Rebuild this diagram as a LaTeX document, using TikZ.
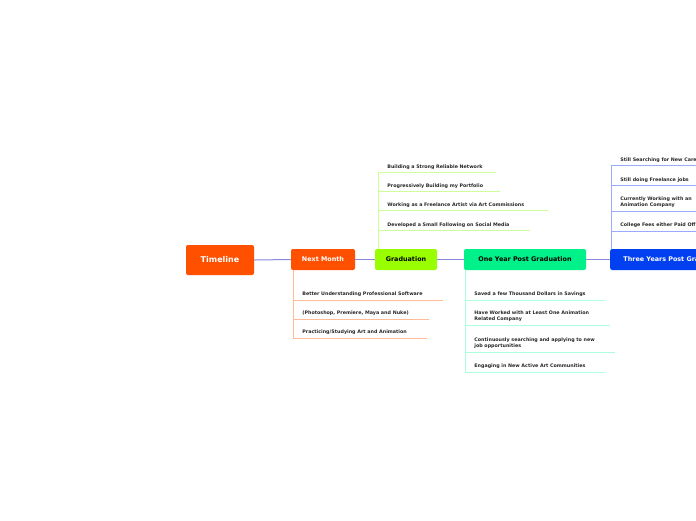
\documentclass[tikz,border=0pt]{standalone}
\usepackage{fontspec}
\setmainfont{DejaVu Sans}
\begin{document}
\begin{tikzpicture}[x=1pt,y=-1pt,
 main/.style={rounded corners=2pt,minimum height=21pt,font=\bfseries\fontsize{6.4}{7}\selectfont,inner sep=0pt},
 leaf/.style={anchor=west,align=left,font=\bfseries\fontsize{4.8}{5.8}\selectfont,inner sep=0pt,text=black!85},
 link/.style={draw=clink,line width=1pt}]
\useasboundingbox (0,0) rectangle (696,520);
\clip (0,0) rectangle (696,520);
\definecolor{cor}{HTML}{FF5000}\definecolor{clime}{HTML}{99FF00}
\definecolor{cgr}{HTML}{00F08A}\definecolor{cbl}{HTML}{0040F0}
\definecolor{lor}{HTML}{FFBB99}\definecolor{llime}{HTML}{CCFF99}
\definecolor{lgr}{HTML}{AAFFDD}\definecolor{lbl}{HTML}{99AAFF}
\definecolor{clink}{HTML}{8888E0}
\node[main,fill=cor,text=white,minimum width=68pt,minimum height=30pt,font=\bfseries\fontsize{8}{9}\selectfont] (tl) at (220,260) {Timeline};
\node[main,fill=cor,text=white,minimum width=64pt] (nm) at (323,259.5) {Next Month};
\node[main,fill=clime,minimum width=62pt] (gr) at (406,259.5) {Graduation};
\node[main,fill=cgr,minimum width=122pt] (oy) at (525,259.5) {One Year Post Graduation};
\node[main,fill=cbl,text=white,minimum width=120pt,anchor=west] (ty) at (610,259.5) {\hspace*{10pt}Three Years Post Graduation\hfill};
\draw[link] (tl.east) -- (nm.west);
\draw[link] (nm.east) -- (gr.west);
\draw[link] (gr.east) -- (oy.west);
\draw[link] (oy.east) -- (ty.west);
\begin{scope}[draw=llime,line width=0.8pt]
\foreach \y/\e/\t in {167/496/{Building a Strong Reliable Network},186/500/{Progressively Building my Portfolio},205/548/{Working as a Freelance Artist via Art Commissions},225/530/{Developed a Small Following on Social Media}}{
 \node[leaf] (n) at (387,\y) {\t};
 \draw (378,\y+5) -- (\e,\y+5);}
\draw (gr.west -| 378,0) ++(0,-10.5) -- (378,172);
\end{scope}
\begin{scope}[draw=lor,line width=0.8pt]
\foreach \y/\e/\t in {294/443/{Better Understanding Professional Software},313/429/{(Photoshop, Premiere, Maya and Nuke)},332/427/{Practicing/Studying Art and Animation}}{
 \node[leaf] (n) at (302,\y) {\t};
 \draw (293,\y+6) -- (\e,\y+6);}
\draw (293,270) -- (293,338);
\end{scope}
\begin{scope}[draw=lgr,line width=0.8pt]
\foreach \y/\l/\e/\t in {294/300/605/{Saved a few Thousand Dollars in Savings},316/325/610/{Have Worked with at Least One Animation\\Related Company},343/352/615/{Continuously searching and applying to new\\job opportunities},366/372/605/{Engaging in New Active Art Communities}}{
 \node[leaf] (n) at (474,\y) {\t};
 \draw (465,\l) -- (\e,\l);}
\draw (465,270) -- (465,372);
\end{scope}
\begin{scope}[draw=lbl,line width=0.8pt]
\foreach \y/\l/\t in {160/165/{Still Searching for New Career Opportunities},180/185/{Still doing Freelance jobs},202/211/{Currently Working with an\\Animation Company},225/231/{College Fees either Paid Off}}{
 \node[leaf] (n) at (620,\y) {\t};
 \draw (611,\l) -- (700,\l);}
\draw (611,165) -- (611,249);
\end{scope}
\end{tikzpicture}
\end{document}
